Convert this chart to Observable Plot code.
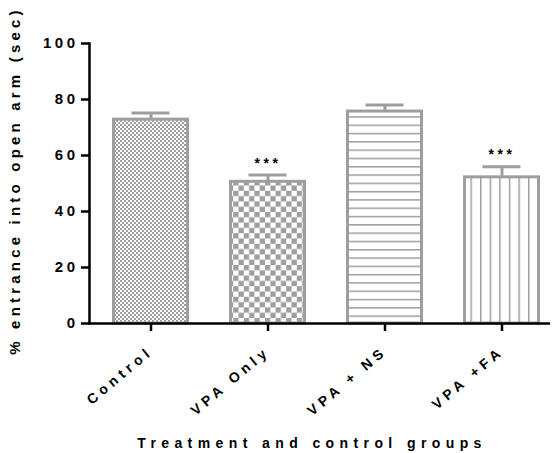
<!DOCTYPE html>
<html><head><meta charset="utf-8">
<script src="https://cdn.jsdelivr.net/npm/d3@7"></script>
<script src="https://cdn.jsdelivr.net/npm/@observablehq/plot@0.6"></script>
<style>
body{margin:0;background:#fff;}
#chart svg{font-family:"Liberation Sans",Arial,sans-serif;font-weight:bold;}
.ytick text{letter-spacing:3.5px;}
.xtick text{letter-spacing:4.5px;}
.ytitle text{letter-spacing:4.2px;}
.xtitle text{letter-spacing:5.4px;}
.stars text{letter-spacing:3.5px;}
</style></head><body><div id="chart"></div>
<script>
const groups = ["Control", "VPA Only", "VPA + NS", "VPA +FA"];
const means = [72.8, 50.6, 75.7, 52.2];
const sems = [2.4, 2.4, 2.3, 3.8];
const significance = ["", "***", "", "***"];
const patternIds = ["fine-check", "coarse-check", "h-lines", "v-lines"];
const yTicks = [0, 20, 40, 60, 80, 100];
const xTitle = "Treatment and control groups";
const yTitle = "% entrance into open arm (sec)";

const data = groups.map((g, i) => ({
  group: g, mean: means[i], top: means[i] + sems[i], sig: significance[i],
  fill: `url(#${patternIds[i]})`
}));
const gray = "#9e9e9e";

const chart = Plot.plot({
  width: 554, height: 453,
  marginTop: 43, marginBottom: 130, marginLeft: 89, marginRight: 4,
  x: {domain: groups, paddingInner: 0.34, paddingOuter: 0.139, align: 0.69, label: null},
  y: {domain: [0, 100], label: null},
  color: {type: "identity"},
  marks: [
    Plot.barY(data, {x: "group", y: "mean", fill: "fill", stroke: gray, strokeWidth: 3, insetLeft: 1.5, insetRight: 1.5}),
    Plot.ruleX(data, {x: "group", y1: "mean", y2: "top", stroke: gray, strokeWidth: 3}),
    Plot.tickY(data, {x: "group", y: "top", stroke: gray, strokeWidth: 3, insetLeft: 19.5, insetRight: 19.5}),
    Plot.text(data, {x: "group", y: "top", text: "sig", dy: -12, fontSize: 14, className: "stars"}),
    Plot.axisY({ticks: yTicks, tickSize: 8, tickPadding: 3, strokeWidth: 2.5, fontSize: 15, label: null, className: "ytick", stroke: "black", color: "black"}),
    Plot.axisX({tickSize: 8, tickPadding: 18, tickRotate: -40, strokeWidth: 2.5, fontSize: 14, label: null, className: "xtick", stroke: "black", color: "black"}),
    Plot.frame({anchor: "left", stroke: "black", strokeWidth: 2.5}),
    Plot.ruleY([0], {stroke: "black", strokeWidth: 2.5}),
    Plot.text([yTitle], {frameAnchor: "left", textAnchor: "middle", rotate: -90, dx: -74, dy: -3, fontSize: 15, className: "ytitle"}),
    Plot.text([xTitle], {frameAnchor: "bottom", dx: -8, dy: 124, fontSize: 14, className: "xtitle"})
  ]
});

const svg = d3.select(chart);
const defs = svg.insert("defs", ":first-child");
// fine checkerboard
const p1 = defs.append("pattern").attr("id", "fine-check").attr("patternUnits", "userSpaceOnUse").attr("width", 4).attr("height", 4);
p1.append("rect").attr("width", 4).attr("height", 4).attr("fill", "white");
p1.append("rect").attr("width", 2).attr("height", 2).attr("fill", gray);
p1.append("rect").attr("x", 2).attr("y", 2).attr("width", 2).attr("height", 2).attr("fill", gray);
// coarse checkerboard
const p2 = defs.append("pattern").attr("id", "coarse-check").attr("patternUnits", "userSpaceOnUse").attr("width", 10.6).attr("height", 10.6);
p2.append("rect").attr("width", 10.6).attr("height", 10.6).attr("fill", "white");
p2.append("rect").attr("width", 5.3).attr("height", 5.3).attr("fill", gray);
p2.append("rect").attr("x", 5.3).attr("y", 5.3).attr("width", 5.3).attr("height", 5.3).attr("fill", gray);
// horizontal lines
const p3 = defs.append("pattern").attr("id", "h-lines").attr("patternUnits", "userSpaceOnUse").attr("width", 10).attr("height", 8.3);
p3.append("rect").attr("width", 10).attr("height", 8.3).attr("fill", "white");
p3.append("rect").attr("y", 0).attr("width", 10).attr("height", 1.5).attr("fill", gray);
// vertical lines
const p4 = defs.append("pattern").attr("id", "v-lines").attr("patternUnits", "userSpaceOnUse").attr("width", 9.6).attr("height", 10);
p4.append("rect").attr("width", 9.6).attr("height", 10).attr("fill", "white");
p4.append("rect").attr("x", 0).attr("width", 1.5).attr("height", 10).attr("fill", gray);

document.getElementById("chart").append(chart);
</script></body></html>
